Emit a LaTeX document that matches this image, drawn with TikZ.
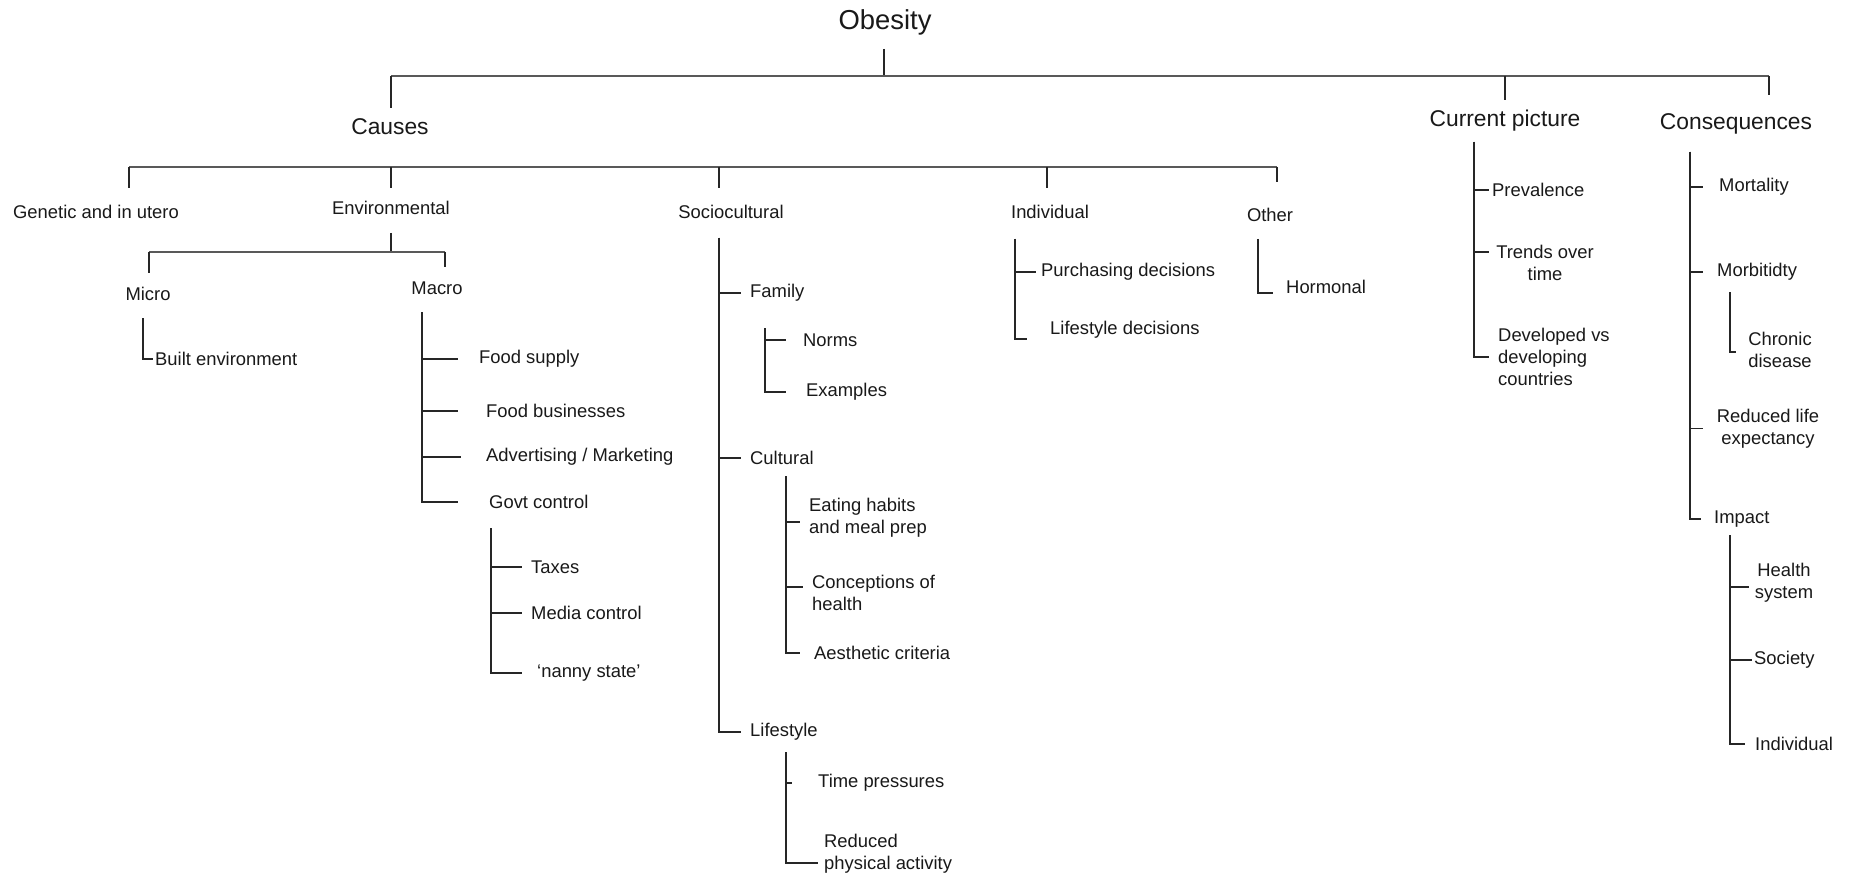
\documentclass[tikz,border=0pt]{standalone}
\usepackage{fontspec}
\setmainfont{Liberation Sans}
\begin{document}
\begin{tikzpicture}[x=1pt,y=-1pt,
  every node/.style={text=black!90, inner sep=0pt},
  lbl/.style={font=\fontsize{18.4}{22}\selectfont},
  leaf/.style={lbl, anchor=west, inner xsep=#1},
  leaf/.default=9pt,
  multi/.style={lbl, align=#1},
  hdr/.style={font=\fontsize{22.8}{26}\selectfont},
  rootlbl/.style={font=\fontsize{27.4}{30}\selectfont},
  bar/.style={draw=black!65, line width=2.7pt},
  wire/.style={draw=black!85, line width=1.8pt, line join=miter},
]
\fill[white] (0,0) rectangle (1849,877);
\useasboundingbox (0,0) rectangle (1849,877);

% ---------- headings ----------
\node[rootlbl] (obesity) at (885,22) {Obesity};
\node[hdr] (causes)  at (390,127)  {Causes};
\node[hdr] (current) at (1505,121) {Current picture};
\node[hdr] (conseq)  at (1736,124) {Consequences};

% ---------- causes: second level ----------
\node[lbl] (genetic) at (96,212)   {Genetic and in utero};
\node[lbl] (env)     at (391,208)  {Environmental};
\node[lbl] (socio)   at (731,212)  {Sociocultural};
\node[lbl] (indiv)   at (1050,212) {Individual};
\node[lbl] (other)   at (1270,215) {Other};

\node[lbl] (micro) at (148,294) {Micro};
\node[lbl] (macro) at (437,288) {Macro};

% environmental leaves
\node[leaf=2pt]  (builtenv) at (153,359) {Built environment};
\node[leaf=21pt] (foodsup)  at (458,359) {Food supply};
\node[leaf=28pt] (foodbus)  at (458,411) {Food businesses};
\node[leaf=25pt] (advert)   at (461,457) {Advertising / Marketing};
\node[leaf=31pt] (govt)     at (458,502) {Govt control};
\node[leaf=9pt]  (taxes)    at (522,567) {Taxes};
\node[leaf=9pt]  (media)    at (522,613) {Media control};
\node[leaf=15pt] (nanny)    at (522,673) {‘nanny state’};

% sociocultural leaves
\node[leaf=9pt]  (family)    at (741,293) {Family};
\node[leaf=17pt] (norms)     at (786,340) {Norms};
\node[leaf=20pt] (examples)  at (786,392) {Examples};
\node[leaf=9pt]  (cultural)  at (741,458) {Cultural};
\node[leaf=9pt, align=left] (eating)  at (800,517.5) {Eating habits\\and meal prep};
\node[leaf=9pt, align=left] (concept) at (803,593) {Conceptions of\\health};
\node[leaf=14pt] (aesth)     at (800,653) {Aesthetic criteria};
\node[leaf=9pt]  (lifestyle) at (741,732) {Lifestyle};
\node[leaf=26pt] (timep)     at (792,783) {Time pressures};
\node[leaf=6pt, align=left] (reduced) at (818,854) {Reduced\\physical activity};

% individual and other leaves
\node[leaf=5pt]  (purch)    at (1036,272) {Purchasing decisions};
\node[leaf=23pt] (lifedec)  at (1027,330) {Lifestyle decisions};
\node[leaf=13pt] (hormonal) at (1273,287) {Hormonal};

% current picture leaves
\node[leaf=3pt] (prevalence) at (1489,190) {Prevalence};
\node[multi=center] (trends) at (1545,262.5) {Trends over\\time};
\node[leaf=9pt, align=left] (developed) at (1489,357) {Developed vs\\developing\\countries};

% consequences leaves
\node[leaf=16pt] (mortality) at (1703,187) {Mortality};
\node[leaf=14pt] (morbid)    at (1703,272) {Morbitidty};
\node[multi=center] (chronic) at (1780,349.5) {Chronic\\disease};
\node[multi=center] (redlife) at (1768,428.5) {Reduced life\\expectancy};
\node[leaf=13pt] (impact)    at (1701,519) {Impact};
\node[multi=center] (health) at (1784,583) {Health\\system};
\node[leaf=2pt]  (society)   at (1752,660) {Society};
\node[leaf=10pt] (indiv2)    at (1745,744) {Individual};

% ---------- junction points ----------
\coordinate (oTop) at (884,49);   \coordinate (oJ) at (884,76);
\coordinate (barL) at (391,76);   \coordinate (barR) at (1769,76);
\coordinate (causesT) at (391,108);
\coordinate (currentJ) at (1505,76); \coordinate (currentT) at (1505,100);
\coordinate (conseqT) at (1769,95);

\coordinate (bar2L) at (129,167); \coordinate (bar2R) at (1277,167);
\coordinate (genT) at (129,188);
\coordinate (envJ2) at (391,167); \coordinate (envT) at (391,188);
\coordinate (socJ) at (719,167);  \coordinate (socT) at (719,188);
\coordinate (indJ) at (1047,167); \coordinate (indT) at (1047,188);
\coordinate (othT) at (1277,182);

\coordinate (envB) at (391,233);  \coordinate (envJ) at (391,252);
\coordinate (envL) at (149,252);  \coordinate (envR) at (445,252);
\coordinate (microT) at (149,273); \coordinate (macroT) at (445,267);

\coordinate (microB) at (143,318);
\coordinate (macroB) at (422,312);
\coordinate (govtB)  at (491,528);
\coordinate (socB)   at (719,238);
\coordinate (famB)   at (765,328);
\coordinate (culB)   at (786,476);
\coordinate (lifeB)  at (786,752);
\coordinate (indB)   at (1015,239);
\coordinate (othB)   at (1258,239);
\coordinate (curB)   at (1474,142);
\coordinate (conB)   at (1690,152);
\coordinate (morB)   at (1730,292);
\coordinate (impB)   at (1730,535);

% ---------- top level ----------
\draw[wire] (oTop) -- (oJ);
\draw[bar] (barL) -- (barR);
\draw[wire] (barL) -- (causesT);
\draw[wire] (currentJ) -- (currentT);
\draw[wire] (barR) -- (conseqT);

% ---------- causes ----------
\draw[bar] (bar2L) -- (bar2R);
\draw[wire] (bar2L) -- (genT);
\draw[wire] (envJ2) -- (envT);
\draw[wire] (socJ) -- (socT);
\draw[wire] (indJ) -- (indT);
\draw[wire] (bar2R) -- (othT);

% environmental
\draw[wire] (envB) -- (envJ);
\draw[bar] (envL) -- (envR);
\draw[wire] (envL) -- (microT);
\draw[wire] (envR) -- (macroT);
\draw[wire] (microB) |- (builtenv.west);
\draw[wire] (macroB) |- (foodsup.west);
\draw[wire] (macroB) |- (foodbus.west);
\draw[wire] (macroB) |- (advert.west);
\draw[wire] (macroB) |- (govt.west);
\draw[wire] (govtB) |- (taxes.west);
\draw[wire] (govtB) |- (media.west);
\draw[wire] (govtB) |- (nanny.west);

% sociocultural
\draw[wire] (socB) |- (family.west);
\draw[wire] (socB) |- (cultural.west);
\draw[wire] (socB) |- (lifestyle.west);
\draw[wire] (famB) |- (norms.west);
\draw[wire] (famB) |- (examples.west);
\draw[wire] (culB) |- ([yshift=-4.5pt]eating.west);
\draw[wire] (culB) |- ([yshift=6pt]concept.west);
\draw[wire] (culB) |- (aesth.west);
\draw[wire] (lifeB) |- (timep.west);
\draw[wire] (lifeB) |- ([yshift=-9pt]reduced.west);

% individual and other
\draw[wire] (indB) |- (purch.west);
\draw[wire] (indB) |- ([yshift=-9pt]lifedec.west);
\draw[wire] (othB) |- ([yshift=-6pt]hormonal.west);

% ---------- current picture ----------
\draw[wire] (curB) |- (prevalence.west);
\draw[wire] (curB) |- ([xshift=-7pt,yshift=10.5pt]trends.west);
\draw[wire] (curB) |- (developed.west);

% ---------- consequences ----------
\draw[wire] (conB) |- (mortality.west);
\draw[wire] (conB) |- (morbid.west);
\draw[wire] (conB) |- ([xshift=-14pt]redlife.west);
\draw[wire] (conB) |- (impact.west);
\draw[wire] (morB) |- ([xshift=-12.5pt,yshift=-2.5pt]chronic.west);
\draw[wire] (impB) |- ([xshift=-6pt,yshift=-4pt]health.west);
\draw[wire] (impB) |- (society.west);
\draw[wire] (impB) |- (indiv2.west);
\end{tikzpicture}
\end{document}
